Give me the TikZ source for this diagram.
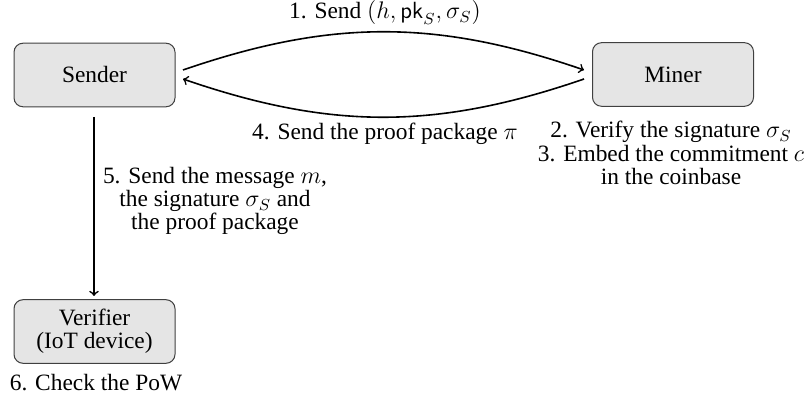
\documentclass[tikz,border=0pt]{standalone}
\usepackage{fontspec}
\setmainfont{Liberation Serif}
\usetikzlibrary{arrows}
\begin{document}
\begin{tikzpicture}[x=0.5pt,y=-0.5pt,
  every node/.style={font=\fontsize{11.7}{11.6}\selectfont},
  party/.style={draw=black!75, line width=0.5pt, fill=gray!20, rounded corners=4.5pt,
    minimum width=80.5pt, minimum height=31.8pt, inner sep=0pt, align=center},
  lbl/.style={align=center, inner sep=0pt},
  flow/.style={->, thick}]
\useasboundingbox (0,0) rectangle (807,399);
\node[party] (sender) at (94.5,75) {Sender};
\node[party] (miner) at (673,74.5) {Miner};
\node[party] (verifier) at (94.5,331.5) {Verifier\\(IoT device)};
\coordinate (s1) at (183,70);
\coordinate (m1) at (584,70);
\coordinate (m2) at (584,79);
\coordinate (s2) at (183,79);
\coordinate (s3) at (94,117);
\coordinate (v3) at (94,296);
\draw[flow] (s1) to[bend left=19] (m1);
\draw[flow] (m2) to[bend left=19] (s2);
\draw[flow] (s3) -- (v3);
\node[lbl] (l1) at (385,13) {1. Send $(h,\mathsf{pk}_S,\sigma_S)$};
\node[lbl] (l4) at (385,134) {4. Send the proof package $\pi$};
\node[lbl] (l23) at (671,153) {2. Verify the signature $\sigma_S$\\3. Embed the commitment $c$\\in the coinbase};
\node[lbl] (l5) at (215,201) {5. Send the message $m$,\\the signature $\sigma_S$ and\\the proof package};
\node[lbl] (l6) at (96,383) {6. Check the PoW};
\end{tikzpicture}
\end{document}
